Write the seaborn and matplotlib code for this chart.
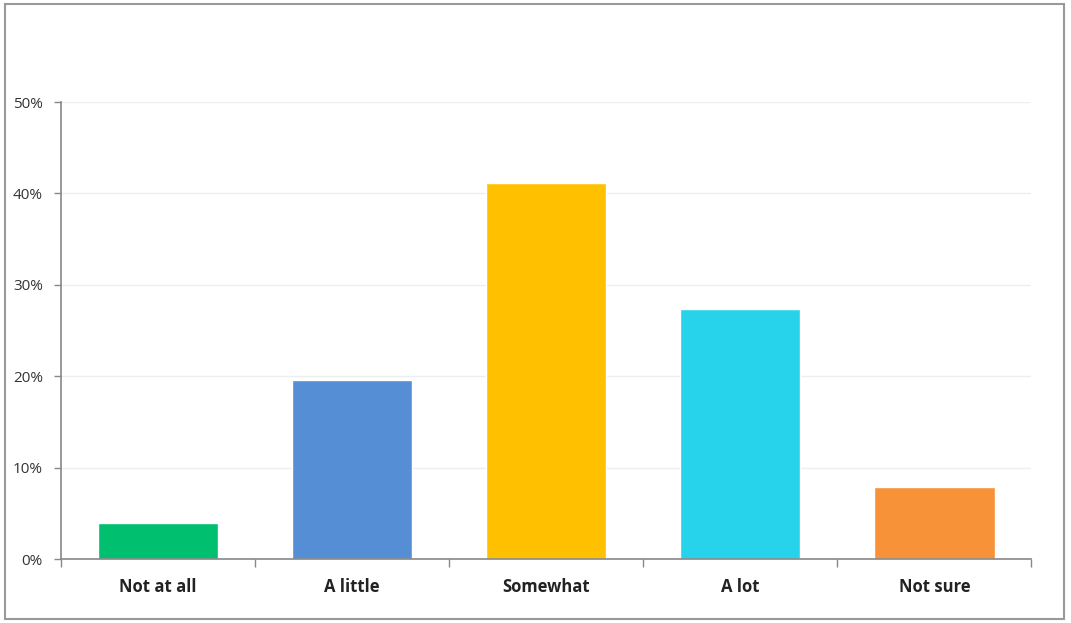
import matplotlib
matplotlib.use('Agg')
import matplotlib.pyplot as plt
import seaborn as sns
import pandas as pd
from matplotlib.patches import Rectangle
from matplotlib.ticker import FixedLocator, PercentFormatter

sns.set_theme(style="white")
plt.rcParams['font.family'] = ['Open Sans', 'DejaVu Sans']

categories = ['Not at all', 'A little', 'Somewhat', 'A lot', 'Not sure']
shares = [3.9, 19.6, 41.1, 27.4, 7.9]
colors = ['#00BF6F', '#558ED5', '#FFC000', '#26D3EA', '#F79239']

df = pd.DataFrame({'category': categories, 'share': shares})

fig = plt.figure(figsize=(10.71, 6.23), dpi=100)
ax = fig.add_axes([0.057, 0.1027, 0.906, 0.7335])

sns.barplot(data=df, x='category', y='share', hue='category', palette=colors,
            width=0.62, legend=False, saturation=1, ax=ax)

ax.set_ylim(0, 50)
ax.set_xlim(-0.5, 4.5)
ax.set_yticks(range(0, 51, 10))
ax.yaxis.set_major_formatter(PercentFormatter(decimals=0))
ax.yaxis.grid(True, color='#EEEEEE', linewidth=1)
ax.set_axisbelow(True)

ax.xaxis.set_major_locator(FixedLocator(range(5)))
ax.xaxis.set_minor_locator(FixedLocator([i - 0.5 for i in range(6)]))
ax.tick_params(axis='x', which='major', bottom=True, length=0, pad=14)
ax.tick_params(axis='x', which='minor', bottom=True, length=6, width=1,
               color='#888888', direction='out')
ax.tick_params(axis='y', which='major', left=True, length=5, width=1,
               color='#888888', direction='out', pad=8)
for lbl in ax.get_xticklabels():
    lbl.set_fontweight('bold')
    lbl.set_fontsize(12)
    lbl.set_color('#222222')
for lbl in ax.get_yticklabels():
    lbl.set_fontsize(11)
    lbl.set_color('#333333')

ax.set_xlabel('')
ax.set_ylabel('')
for side in ['top', 'right']:
    ax.spines[side].set_visible(False)
for side in ['left', 'bottom']:
    ax.spines[side].set_color('#888888')
    ax.spines[side].set_linewidth(1.2)

fig.patches.append(Rectangle((0.005, 0.006), 0.988, 0.987, transform=fig.transFigure,
                             fill=False, edgecolor='#999999', linewidth=1.5))

fig.savefig('out.png', dpi=100)
